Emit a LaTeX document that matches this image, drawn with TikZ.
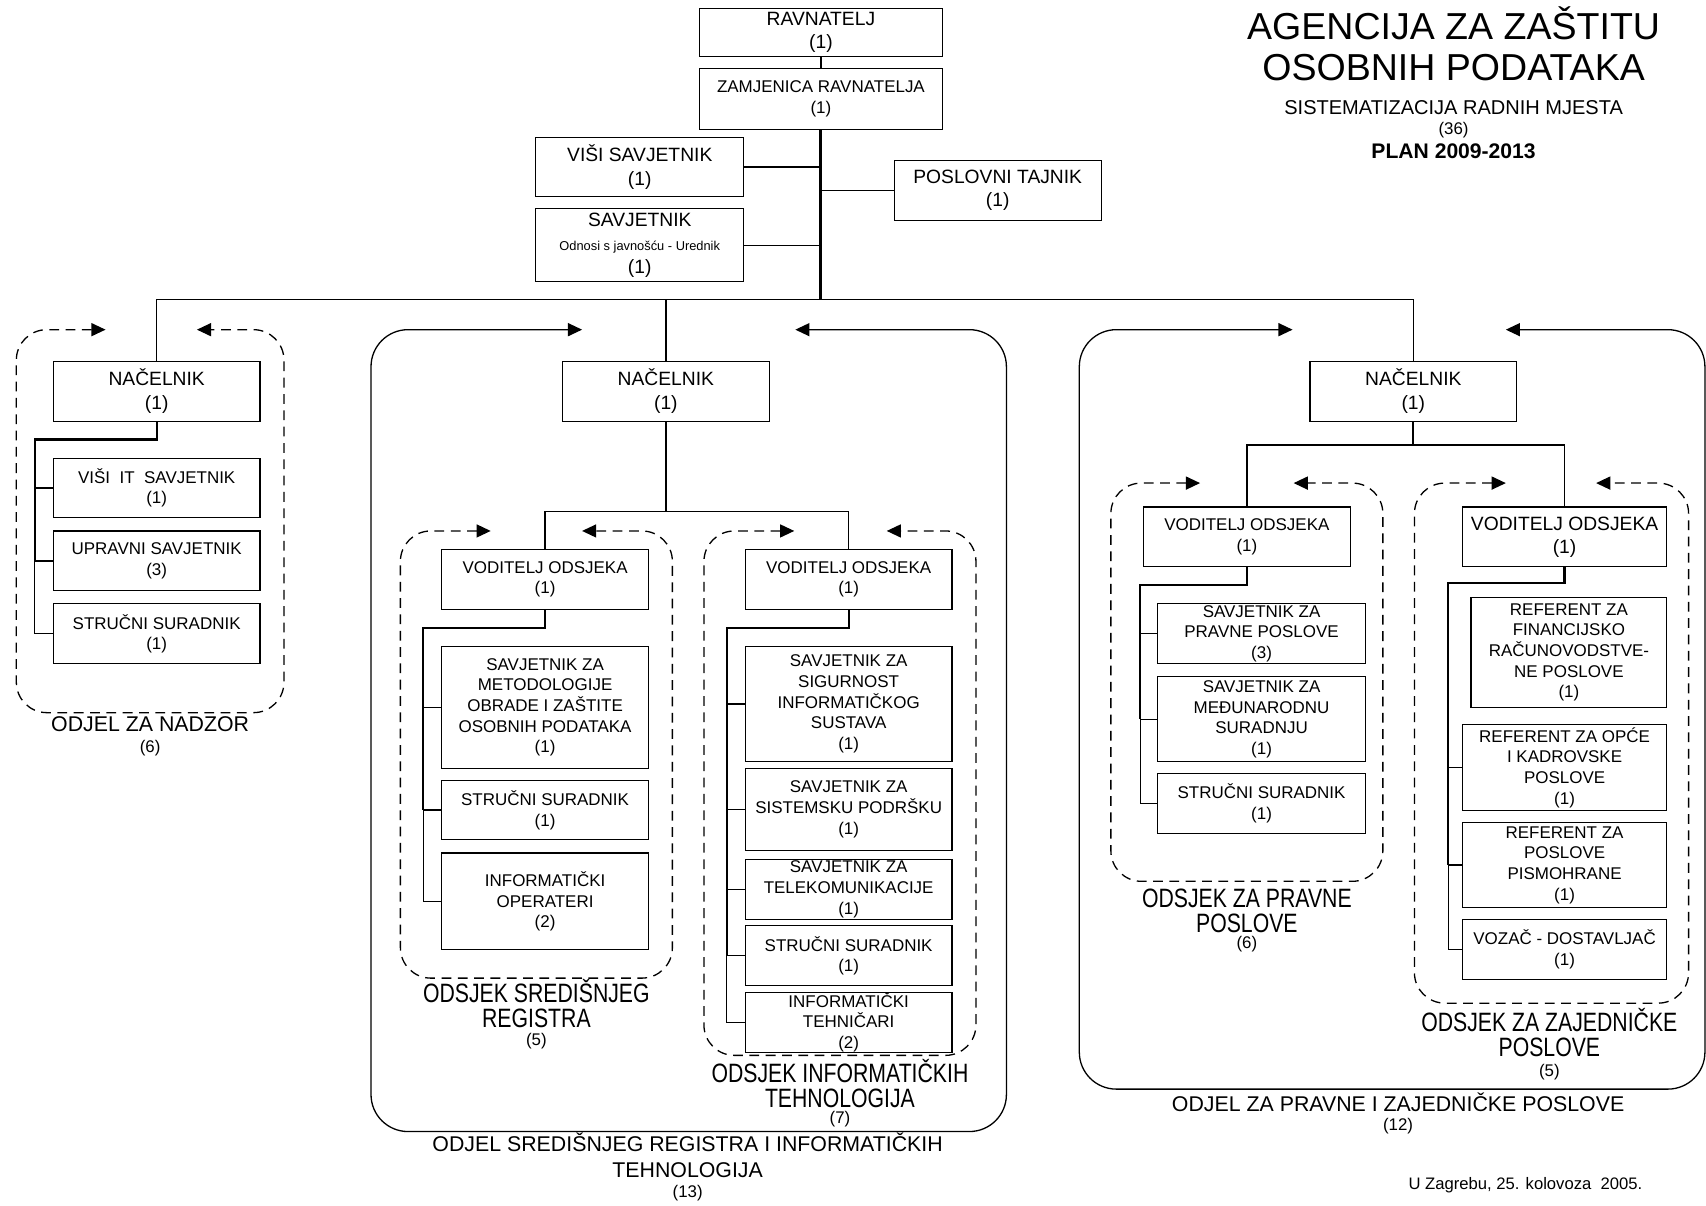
\documentclass[tikz,border=0pt]{standalone}
\usepackage{fontspec}
\setmainfont{Liberation Sans}
\newfontfamily\narrowfont[FakeStretch=0.8]{Liberation Sans}
\usepackage{tikz}
\usetikzlibrary{arrows.meta}
\tikzstyle{post} = [draw,line width=0.5pt,inner sep=0pt,align=center,minimum width=95pt,minimum height=27.5pt,font=\fontsize{7.8}{9.5}\selectfont]
\tikzstyle{bigpost} = [post,font=\fontsize{8.85}{10.7}\selectfont]
\tikzstyle{link} = [line width=0.6pt]
\tikzstyle{trunk} = [line width=1pt]
\tikzstyle{dept} = [line width=0.6pt,rounded corners=17pt,<->,>={Triangle[length=6.5pt,width=6pt]}]
\tikzstyle{unit} = [dept,dash pattern=on 4.5pt off 3pt,rounded corners=14pt]
\tikzstyle{unitname} = [align=center,font=\narrowfont\fontsize{12.2}{11.5}\selectfont]
\tikzstyle{deptname} = [align=center,font=\fontsize{9.8}{12}\selectfont]
\tikzstyle{count} = [font=\fontsize{7.75}{9}\selectfont]

\begin{document}
\begin{tikzpicture}[x=0.5pt,y=-0.5pt]
	\useasboundingbox (0,0) rectangle (1568,1108);
	\node[font=\fontsize{17.25}{19}\selectfont,align=center] (naslov) at (1336,40) {AGENCIJA ZA ZAŠTITU\\OSOBNIH PODATAKA};
	\node[font=\fontsize{9.2}{11}\selectfont] (sistematizacija) at (1336,99) {SISTEMATIZACIJA RADNIH MJESTA};
	\node[count] (ukupno) at (1336,120) {(36)};
	\node[font=\bfseries\fontsize{9.7}{11}\selectfont] (plan) at (1336,139) {PLAN 2009-2013};
	\node[bigpost,minimum width=111.5pt,minimum height=22pt] (rav) at (754.5,30) {RAVNATELJ\\(1)};
	\node[post,minimum width=111.5pt,minimum height=28pt] (zam) at (754.5,91) {ZAMJENICA RAVNATELJA\\(1)};
	\node[bigpost,minimum width=95.5pt] (visi) at (588,153.5) {VIŠI SAVJETNIK\\(1)};
	\node[bigpost,minimum width=95.5pt,minimum height=33.5pt] (savj) at (588,225.5) {SAVJETNIK\\{\fontsize{5.9}{10.7}\selectfont Odnosi s javnošću - Urednik}\\(1)};
	\node[bigpost] (tajnik) at (917,175) {POSLOVNI TAJNIK\\(1)};
	\coordinate (bus) at (754.5,275);
	\draw[link] (rav) -- (zam);
	\draw[line width=1.4pt] (zam) -- (bus);
	\draw[link] (visi) -- (visi -| bus);
	\draw[link] (savj) -- (savj -| bus);
	\draw[link] (tajnik) -- (tajnik -| bus);
	\node[bigpost] (nacA) at (144,359.5) {NAČELNIK\\(1)};
	\node[post] (A1) at (144,448.5) {VIŠI~ IT~ SAVJETNIK\\(1)};
	\node[post] (A2) at (144,515.5) {UPRAVNI SAVJETNIK\\(3)};
	\node[post] (A3) at (144,582.5) {STRUČNI SURADNIK\\(1)};
	\node[bigpost] (nacB) at (612,359.5) {NAČELNIK\\(1)};
	\node[post] (vodB) at (501,532.5) {VODITELJ ODSJEKA\\(1)};
	\node[post,minimum height=56pt] (B1) at (501,650) {SAVJETNIK ZA\\METODOLOGIJE\\OBRADE I ZAŠTITE\\OSOBNIH PODATAKA\\(1)};
	\node[post] (B2) at (501,744.5) {STRUČNI SURADNIK\\(1)};
	\node[post,minimum height=44.5pt] (B3) at (501,828.5) {INFORMATIČKI\\OPERATERI\\(2)};
	\node[post] (vodC) at (780,532.5) {VODITELJ ODSJEKA\\(1)};
	\node[post,minimum height=53pt] (C1) at (780,647) {SAVJETNIK ZA\\SIGURNOST\\INFORMATIČKOG\\SUSTAVA\\(1)};
	\node[post,minimum height=38pt] (C2) at (780,744) {SAVJETNIK ZA\\SISTEMSKU PODRŠKU\\(1)};
	\node[post] (C3) at (780,817.5) {SAVJETNIK ZA\\TELEKOMUNIKACIJE\\(1)};
	\node[post] (C4) at (780,878.5) {STRUČNI SURADNIK\\(1)};
	\node[post] (C5) at (780,939.5) {INFORMATIČKI\\TEHNIČARI\\(2)};
	\node[bigpost] (nacD) at (1299,359.5) {NAČELNIK\\(1)};
	\node[post] (vodE) at (1146,493.5) {VODITELJ ODSJEKA\\(1)};
	\node[post,minimum width=95.5pt] (E1) at (1159.5,582.5) {SAVJETNIK ZA\\PRAVNE POSLOVE\\(3)};
	\node[post,minimum width=95.5pt,minimum height=39pt] (E2) at (1159.5,661) {SAVJETNIK ZA\\MEĐUNARODNU\\SURADNJU\\(1)};
	\node[post,minimum width=95.5pt] (E3) at (1159.5,738.5) {STRUČNI SURADNIK\\(1)};
	\node[bigpost,minimum width=94pt] (vodF) at (1438,493.5) {VODITELJ ODSJEKA\\(1)};
	\node[post,minimum width=90pt,minimum height=50.5pt] (F1) at (1442,599.5) {REFERENT ZA\\FINANCIJSKO\\RAČUNOVODSTVE-\\NE POSLOVE\\(1)};
	\node[post,minimum width=94pt,minimum height=39.5pt] (F2) at (1438,705.5) {REFERENT ZA OPĆE\\I KADROVSKE\\POSLOVE\\(1)};
	\node[post,minimum width=94pt,minimum height=39pt] (F3) at (1438,795) {REFERENT ZA\\POSLOVE\\PISMOHRANE\\(1)};
	\node[post,minimum width=94pt] (F4) at (1438,872.5) {VOZAČ - DOSTAVLJAČ\\(1)};
	\draw[link] (nacA) |- (bus) -| (nacD);
	\draw[link] (nacB) -- (nacB |- bus);
	\coordinate (srbus) at (612,470);
	\draw[trunk] (nacB) -- (srbus);
	\draw[link] (vodB) |- (srbus) -| (vodC);
	\coordinate (prbus) at (1299,409);
	\draw[trunk] (nacD) -- (prbus);
	\draw[link] (vodE) |- (prbus) -| (vodF);
	\coordinate (Asp) at (32,404);
	\draw[trunk] (nacA) |- (Asp) -- (Asp |- A2.west);
	\draw[link] (Asp) |- (A1.west);
	\draw[link] (Asp) |- (A2.west);
	\draw[link] (Asp) |- (A3.west);
	\coordinate (Bsp) at (389,577);
	\draw[trunk] (vodB) |- (Bsp) -- (Bsp |- B2.west);
	\draw[link] (Bsp) |- (B1.west);
	\draw[link] (Bsp) |- (B2.west);
	\draw[link] (Bsp) |- (B3.west);
	\coordinate (Csp) at (668,577);
	\draw[trunk] (vodC) |- (Csp) -- (Csp |- C4.west);
	\draw[link] (Csp) |- (C1.west);
	\draw[link] (Csp) |- (C2.west);
	\draw[link] (Csp) |- (C3.west);
	\draw[link] (Csp) |- (C4.west);
	\draw[link] (Csp) |- (C5.west);
	\coordinate (Esp) at (1048,538);
	\draw[trunk] (vodE) |- (Esp) -- (Esp |- E2.west);
	\draw[link] (Esp) |- (E1.west);
	\draw[link] (Esp) |- (E2.west);
	\draw[link] (Esp) |- (E3.west);
	\coordinate (Fsp) at (1331,536);
	\draw[trunk] (vodF) |- (Fsp) -- (Fsp |- F3.west);
	\draw[link] (Fsp) |- (F2.west);
	\draw[link] (Fsp) |- (F3.west);
	\draw[link] (Fsp) |- (F4.west);
	\draw[unit] (97,303) -| (15,655) -| (261,303) -- (181,303);
	\draw[dept] (535,303) -| (341,1040) -| (925,303) -- (731,303);
	\draw[unit] (451,488) -| (368,899) -| (618,488) -- (535,488);
	\draw[unit] (730,488) -| (647,970) -| (897,488) -- (815,488);
	\draw[dept] (1188,303) -| (992,1001) -| (1567,303) -- (1384,303);
	\draw[unit] (1103,444) -| (1021,810) -| (1271,444) -- (1189,444);
	\draw[unit] (1384,444) -| (1300,922) -| (1552,444) -- (1467,444);
	\node[deptname] (nadzor) at (138,666) {ODJEL ZA NADZOR};
	\node[count] (nadzorN) at (138,688) {(6)};
	\node[deptname] (registar) at (632,1062) {ODJEL SREDIŠNJEG REGISTRA I INFORMATIČKIH\\TEHNOLOGIJA};
	\node[count] (registarN) at (632,1097) {(13)};
	\node[unitname] (sredisnji) at (493,922) {ODSJEK SREDIŠNJEG\\REGISTRA};
	\node[count] (sredisnjiN) at (493,957) {(5)};
	\node[unitname] (informatika) at (772,996) {ODSJEK INFORMATIČKIH\\TEHNOLOGIJA};
	\node[count] (informatikaN) at (772,1029) {(7)};
	\node[deptname] (pravniodjel) at (1285,1013) {ODJEL ZA PRAVNE I ZAJEDNIČKE POSLOVE};
	\node[count] (pravniodjelN) at (1285,1035) {(12)};
	\node[unitname] (pravni) at (1146,837) {ODSJEK ZA PRAVNE\\POSLOVE};
	\node[count] (pravniN) at (1146,868) {(6)};
	\node[unitname] (zajednicki) at (1424,949) {ODSJEK ZA ZAJEDNIČKE\\POSLOVE};
	\node[count] (zajednickiN) at (1424,985) {(5)};
	\node[font=\fontsize{7.65}{9}\selectfont] (datum) at (1402,1089) {U Zagrebu, 25. kolovoza~ 2005.};
\end{tikzpicture}
\end{document}
